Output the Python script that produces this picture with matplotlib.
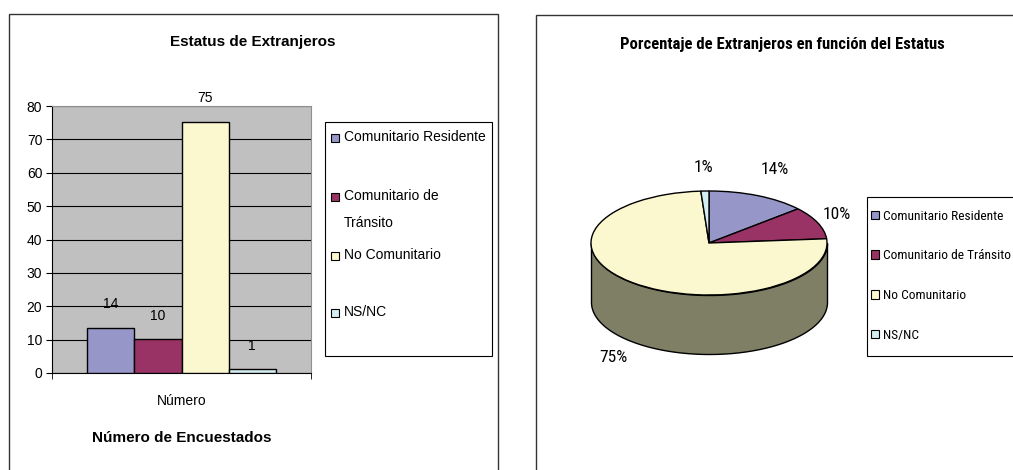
import numpy as np
import matplotlib
matplotlib.use("Agg")
import matplotlib.pyplot as plt
from matplotlib.patches import Rectangle, Patch

# Data
categories = ["Comunitario Residente", "Comunitario de Tránsito", "No Comunitario", "NS/NC"]
legend_left_labels = ["Comunitario Residente", "Comunitario de\nTránsito", "No Comunitario", "NS/NC"]
values = [13.6, 10.1, 75.2, 1.1]
colors = ["#9696C8", "#993366", "#FBF8D0", "#D3EEF2"]
side_color = "#7F7F65"
yticks = [0, 10, 20, 30, 40, 50, 60, 70, 80]

W, H = 1013, 470
plt.rcParams["font.family"] = ["Liberation Sans", "DejaVu Sans"]
narrow = ["Roboto Condensed", "Liberation Sans", "DejaVu Sans"]

fig = plt.figure(figsize=(W / 100, H / 100), dpi=100)


def box(x0, y0, x1, y1):
    # pixel box (top-left origin) -> figure fraction rect
    return [x0 / W, 1 - y1 / H, (x1 - x0) / W, (y1 - y0) / H]


def px(x, y):
    return x / W, 1 - y / H


# panel frames
fig.add_artist(Rectangle(px(9, 480), 489 / W, 466 / H, transform=fig.transFigure,
                         fill=False, edgecolor="#333333", lw=1))
fig.add_artist(Rectangle(px(536, 480), 490 / W, 465 / H, transform=fig.transFigure,
                         fill=False, edgecolor="#333333", lw=1))

# ---------------- left: bar chart ----------------
ax1 = fig.add_axes(box(52, 106, 311, 373))
x = np.arange(len(values))
ax1.bar(x, values, width=1.0, color=colors, edgecolor="black", linewidth=1, zorder=3)
ax1.set_facecolor("#C0C0C0")
ax1.set_xlim(-1.25, 4.25)
ax1.set_ylim(0, 80)
ax1.set_yticks(yticks)
ax1.grid(axis="y", color="black", linewidth=0.8)
ax1.set_axisbelow(True)
for v, xi in zip(values, x):
    ax1.annotate(f"{v:.0f}", (xi, v), xytext=(0, 17), textcoords="offset points",
                 ha="center", va="center", fontsize=10)
ax1.set_xticks([1.5], ["Número"])
ax1.set_xticks([-1.25, 4.25], minor=True)
ax1.tick_params(axis="x", which="major", length=0, pad=15, labelsize=10)
ax1.tick_params(axis="x", which="minor", length=4, direction="out", color="black")
ax1.tick_params(axis="y", length=4, direction="out", pad=3, labelsize=10)
for s in ["top", "right"]:
    ax1.spines[s].set_color("#909090")
for s in ["left", "bottom"]:
    ax1.spines[s].set_color("black")
ax1.set_xlabel("Número de Encuestados", fontsize=11, fontweight="bold", labelpad=17)

fig.text(*px(253, 42), "Estatus de Extranjeros", ha="center", va="center",
         fontsize=11, fontweight="bold")

# left legend (entries spaced evenly, wrapped label hangs below)
fig.add_artist(Rectangle(px(325, 356), 167 / W, 234 / H, transform=fig.transFigure,
                         facecolor="white", edgecolor="black", lw=0.8))
leg_y = [138, 197, 256, 313]
for lab, c, yy in zip(legend_left_labels, colors, leg_y):
    fig.add_artist(Rectangle(px(331, yy + 4), 8 / W, 8 / H, transform=fig.transFigure,
                             facecolor=c, edgecolor="black", lw=0.8))
    fig.text(*px(344, yy - 8), lab, ha="left", va="top", fontsize=10, linespacing=2.15)

# ---------------- right: 3D-look pie ----------------
ax2 = fig.add_axes(box(570, 150, 850, 380))
depth = 59 / 52
t = np.linspace(np.pi, 2 * np.pi, 200)
ax2.fill_between(np.cos(t), np.sin(t) - depth, np.sin(t), facecolor=side_color,
                 edgecolor="black", linewidth=1, zorder=0.5)
ax2.pie(values, colors=colors, startangle=90, counterclock=False, radius=1,
        wedgeprops=dict(edgecolor="black", linewidth=1))
ax2.set_aspect("auto")
ax2.set_xlim(-(709 - 570) / 118, (850 - 709) / 118)
ax2.set_ylim(-(380 - 243) / 52, (243 - 150) / 52)
ax2.axis("off")

pct_pos = [(0.56, 1.42), (1.085, 0.54), (-0.81, -2.21), (-0.05, 1.46)]
total = sum(values)
for v, (lx, ly) in zip(values, pct_pos):
    ax2.text(lx, ly, f"{v / total * 100:.0f}%", ha="center", va="center",
             fontsize=12.5, family=narrow)

fig.text(*px(782, 45), "Porcentaje de Extranjeros en función del Estatus", ha="center",
         va="center", fontsize=12, fontweight="bold", family=narrow)

# right legend: frame drawn separately, it runs past the figure edge
fig.add_artist(Rectangle(px(867, 356), 170 / W, 159 / H, transform=fig.transFigure,
                         facecolor="white", edgecolor="black", lw=0.8))
handles = [Patch(facecolor=c, edgecolor="black", linewidth=0.8) for c in colors]
fig.legend(handles, categories, loc="upper left", bbox_to_anchor=px(868, 207),
           frameon=False, prop=dict(family=narrow, size=9.6), handlelength=0.62,
           handleheight=0.62, handletextpad=0.3, labelspacing=2.0, borderpad=0.2,
           borderaxespad=0)

fig.savefig("out.png", dpi=100)
